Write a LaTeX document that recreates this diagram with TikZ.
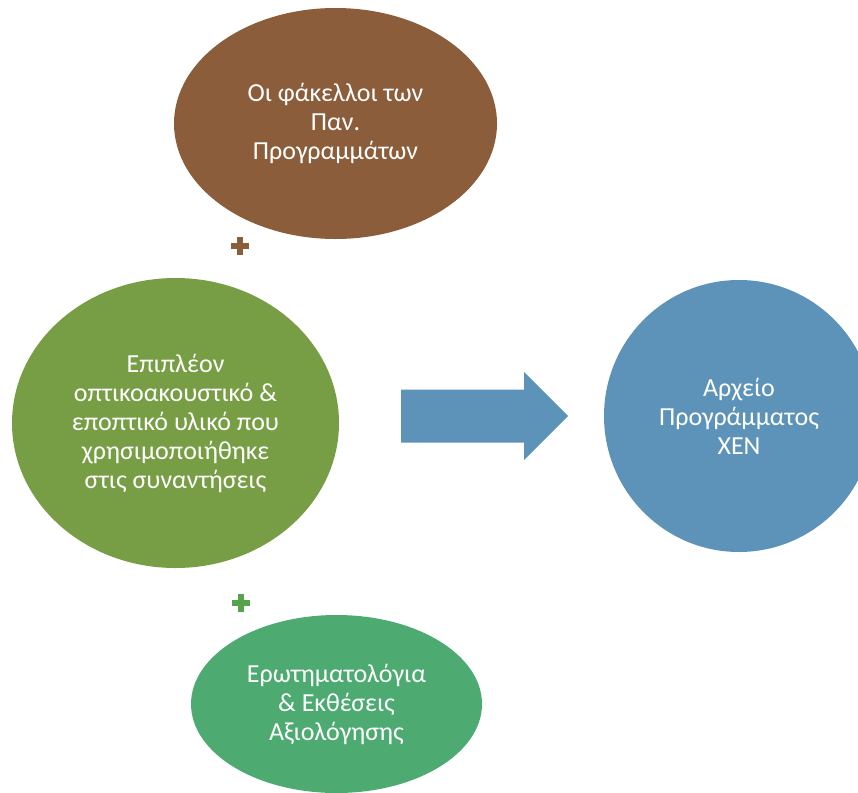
\documentclass[tikz,border=0pt]{standalone}
\usepackage{fontspec}
\setmainfont{Carlito}
\usetikzlibrary{shapes.geometric,calc}
\definecolor{cbrown}{HTML}{8B5D3B}
\definecolor{cgreen}{HTML}{779E45}
\definecolor{cteal}{HTML}{4DAB72}
\definecolor{cblue}{HTML}{5D93B8}
\definecolor{cplusg}{HTML}{55A44C}
\tikzset{
  blob/.style={ellipse, inner sep=0pt, text=white, align=center,
    font=\fontsize{26}{29}\selectfont},
}
\begin{document}
\begin{tikzpicture}[x=1pt,y=-1pt]
\useasboundingbox (0,0) rectangle (858,792);
\clip (0,0) rectangle (858,792);
\node[blob, fill=cbrown, minimum width=323pt, minimum height=231pt] (folders) at (335.5,123.5)
  {Οι φάκελλοι των\\Παν.\\Προγραμμάτων};
\node[blob, fill=cgreen, minimum width=327pt, minimum height=290pt] (material) at (175.5,423)
  {Επιπλέον\\οπτικοακουστικό \&\\εποπτικό υλικό που\\χρησιμοποιήθηκε\\στις συναντήσεις};
\node[blob, fill=cteal, minimum width=291pt, minimum height=178pt] (quest) at (336.5,704)
  {Ερωτηματολόγια\\\& Εκθέσεις\\Αξιολόγησης};
\node[blob, fill=cblue, minimum width=270pt, minimum height=272pt] (archive) at (739,416)
  {Αρχείο\\Προγράμματος\\ΧΕΝ};
% arrow
\coordinate (arrowtail) at (401,416);
\coordinate (arrowtip) at (568,416);
\fill[cblue] ($(arrowtail)+(0,-26.5)$) -- (524,389.5) -- (524,372) -- (arrowtip)
  -- (524,460) -- (524,442.5) -- ($(arrowtail)+(0,26.5)$) -- cycle;
% plus signs
\coordinate (plus1) at (240,246);
\coordinate (plus2) at (241,603);
\fill[cbrown] ($(plus1)+(-9,-3)$) rectangle ($(plus1)+(9,3)$);
\fill[cbrown] ($(plus1)+(-3,-9)$) rectangle ($(plus1)+(3,9)$);
\fill[cplusg] ($(plus2)+(-9,-3)$) rectangle ($(plus2)+(9,3)$);
\fill[cplusg] ($(plus2)+(-3,-9)$) rectangle ($(plus2)+(3,9)$);
\end{tikzpicture}
\end{document}
